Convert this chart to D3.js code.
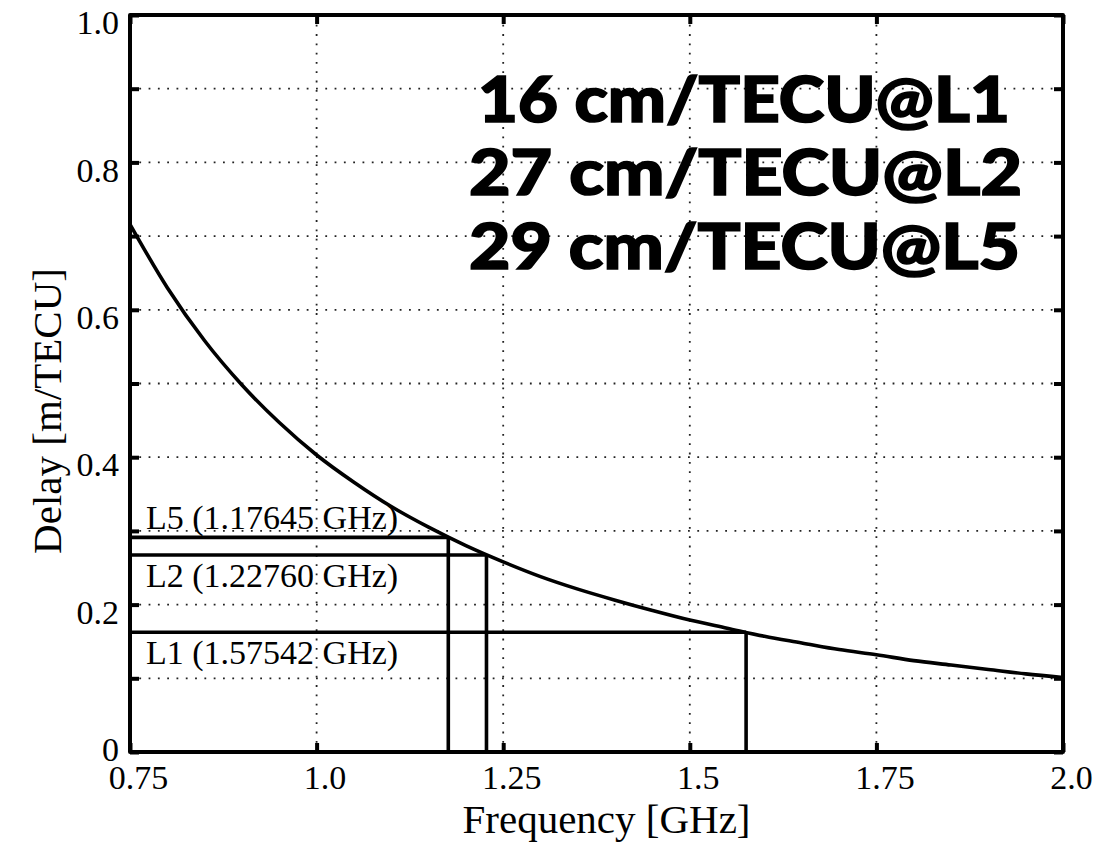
<!DOCTYPE html>
<html>
<head>
<meta charset="utf-8">
<script src="https://cdn.jsdelivr.net/npm/d3@7"></script>
<style>
  body { margin: 0; background: #fff; }
  svg { display: block; }
</style>
</head>
<body>
<script>
// delay curve (GHz -> m/TECU)
const freqs = [0.75, 0.8, 0.85, 0.9, 0.95, 1.0, 1.05, 1.1, 1.15, 1.2, 1.25, 1.3, 1.35,
  1.4, 1.45, 1.5, 1.55, 1.6, 1.65, 1.7, 1.75, 1.8, 1.85, 1.9, 1.95, 2.0];
const delays = [0.716, 0.63, 0.558, 0.498, 0.447, 0.403, 0.366, 0.333, 0.305, 0.28, 0.258,
  0.238, 0.221, 0.206, 0.192, 0.179, 0.168, 0.157, 0.148, 0.139, 0.132, 0.124, 0.118,
  0.112, 0.106, 0.101];

// GNSS bands
const bandNames = ["L5 (1.17645 GHz)", "L2 (1.22760 GHz)", "L1 (1.57542 GHz)"];
const bandFreqs = [1.17645, 1.2276, 1.57542];
const bandDelays = [0.2912, 0.2674, 0.1624];

const xTicks = [0.75, 1.0, 1.25, 1.5, 1.75, 2.0];
const xTickLabels = ["0.75", "1.0", "1.25", "1.5", "1.75", "2.0"];
const yTicks = [0, 0.1, 0.2, 0.3, 0.4, 0.5, 0.6, 0.7, 0.8, 0.9, 1.0];
const yTickLabels = ["0", "", "0.2", "", "0.4", "", "0.6", "", "0.8", "", "1.0"];

const noteLines = ["16 cm/TECU@L1", "27 cm/TECU@L2", "29 cm/TECU@L5"];

const width = 1100, height = 848;
const plotL = 130, plotR = 1063, plotT = 15, plotB = 752;
const serif = "'Liberation Serif', 'Times New Roman', serif";

const svg = d3.select("body").append("svg")
  .attr("width", width)
  .attr("height", height);

const x = d3.scaleLinear().domain([0.75, 2.0]).range([plotL, plotR]);
const y = d3.scaleLinear().domain([0, 1.0]).range([plotB, plotT]);

// dotted grid
const grid = svg.append("g")
  .attr("stroke", "#222")
  .attr("stroke-width", 1.8)
  .attr("stroke-dasharray", "1.8,7.5");

grid.selectAll("line.gx")
  .data(xTicks.slice(1, -1))
  .enter().append("line")
  .attr("class", "gx")
  .attr("x1", d => x(d)).attr("x2", d => x(d))
  .attr("y1", plotB).attr("y2", plotT);

grid.selectAll("line.gy")
  .data(yTicks.slice(1, -1))
  .enter().append("line")
  .attr("class", "gy")
  .attr("x1", plotL).attr("x2", plotR)
  .attr("y1", d => y(d)).attr("y2", d => y(d));

// axes (ticks inward, on all four sides)
const tickLen = 9;
const axB = svg.append("g").attr("transform", `translate(0,${plotB})`)
  .call(d3.axisBottom(x).tickValues(xTicks).tickSize(-tickLen).tickFormat((d, i) => xTickLabels[i]));
const axT = svg.append("g").attr("transform", `translate(0,${plotT})`)
  .call(d3.axisTop(x).tickValues(xTicks).tickSize(-tickLen).tickFormat(""));
const axL = svg.append("g").attr("transform", `translate(${plotL},0)`)
  .call(d3.axisLeft(y).tickValues(yTicks).tickSize(-tickLen).tickFormat((d, i) => yTickLabels[i]));
const axR = svg.append("g").attr("transform", `translate(${plotR},0)`)
  .call(d3.axisRight(y).tickValues(yTicks).tickSize(-tickLen).tickFormat(""));

[axB, axT, axL, axR].forEach(ax => {
  ax.select(".domain").remove();
  ax.selectAll(".tick line").attr("stroke", "#000").attr("stroke-width", 4);
  ax.selectAll("text")
    .attr("fill", "#000")
    .style("font-family", serif)
    .style("font-size", "34px");
});

axB.selectAll("text").attr("y", 13).attr("dy", "0.71em").attr("dx", 8);
axL.selectAll("text").attr("x", -11).attr("dy", d => d === 0 ? "0.24em" : "0.55em");

// frame
svg.append("rect")
  .attr("x", plotL).attr("y", plotT)
  .attr("width", plotR - plotL).attr("height", plotB - plotT)
  .attr("fill", "none")
  .attr("stroke", "#000")
  .attr("stroke-width", 4)
  .attr("stroke-linejoin", "round");

// band marker lines
const bands = bandNames.map((name, i) => ({ name: name, f: bandFreqs[i], d: bandDelays[i] }));

svg.selectAll("line.bh")
  .data(bands)
  .enter().append("line")
  .attr("class", "bh")
  .attr("x1", plotL).attr("x2", d => x(d.f))
  .attr("y1", d => y(d.d)).attr("y2", d => y(d.d))
  .attr("stroke", "#000").attr("stroke-width", 3.6);

svg.selectAll("line.bv")
  .data(bands)
  .enter().append("line")
  .attr("class", "bv")
  .attr("x1", d => x(d.f)).attr("x2", d => x(d.f))
  .attr("y1", plotB).attr("y2", d => y(d.d))
  .attr("stroke", "#000").attr("stroke-width", 3.6);

svg.selectAll("text.blabel")
  .data(bands)
  .enter().append("text")
  .attr("class", "blabel")
  .attr("x", 146)
  .attr("y", (d, i) => y(d.d) + (i === 0 ? -8 : 32))
  .text(d => d.name)
  .style("font-family", serif)
  .style("font-size", "34px");

// delay curve
const curveData = freqs.map((f, i) => ({ f: f, d: delays[i] }));
svg.append("path")
  .datum(curveData)
  .attr("fill", "none")
  .attr("stroke", "#000")
  .attr("stroke-width", 3.6)
  .attr("d", d3.line().x(d => x(d.f)).y(d => y(d.d)).curve(d3.curveMonotoneX));

// big annotation
const noteStarts = [478, 469, 469];
const noteEnds = [1010, 1022, 1020];
svg.selectAll("text.note")
  .data(noteLines)
  .enter().append("text")
  .attr("class", "note")
  .attr("x", (d, i) => noteStarts[i])
  .attr("y", (d, i) => y(0.9) + 33 + i * (y(0.8) - y(0.9)))
  .attr("textLength", (d, i) => noteEnds[i] - noteStarts[i])
  .attr("lengthAdjust", "spacingAndGlyphs")
  .text(d => d)
  .attr("stroke", "#000")
  .attr("stroke-width", 1.6)
  .style("font-family", "Lato, 'DejaVu Sans', sans-serif")
  .style("font-weight", "900")
  .style("font-size", "62px");

// axis titles
svg.append("text")
  .attr("x", (plotL + plotR) / 2 + 10)
  .attr("y", 833)
  .attr("text-anchor", "middle")
  .text("Frequency [GHz]")
  .style("font-family", serif)
  .style("font-size", "41px");

svg.append("text")
  .attr("transform", "translate(61,411) rotate(-90)")
  .attr("text-anchor", "middle")
  .text("Delay [m/TECU]")
  .style("font-family", serif)
  .style("font-size", "41px");
</script>
</body>
</html>
